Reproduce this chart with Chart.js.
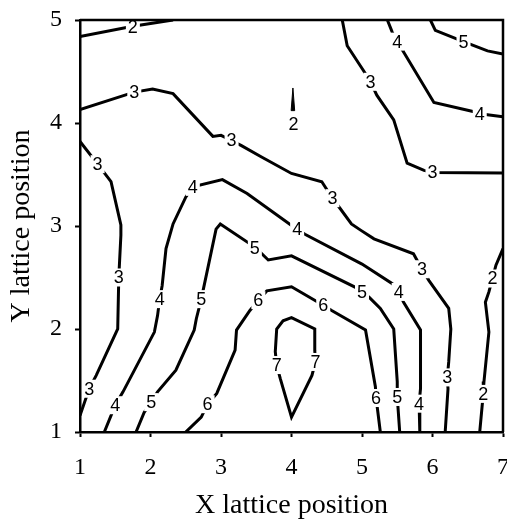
<!DOCTYPE html>
<html>
<head>
<meta charset="utf-8">
<script src="https://cdn.jsdelivr.net/npm/chart.js"></script>
<style>
  html, body { margin: 0; padding: 0; background: #fff; }
  #contour { display: block; }
</style>
</head>
<body>
<canvas id="contour" width="507" height="520"></canvas>
<script>
// contour lines, [x, y] in lattice units
const c2Top = [[1.0, 4.84], [1.75, 4.94], [2.32, 5.0]];
const c2Spike = [[3.995, 4.12], [4.02, 4.34], [4.045, 4.12], [3.995, 4.12]];
const c2Right = [[7.0, 2.78], [6.9, 2.62], [6.85, 2.49], [6.8, 2.36], [6.75, 2.26], [6.8, 1.97], [6.73, 1.49], [6.72, 1.37], [6.67, 1.0]];
const c3Upper = [[1.0, 4.13], [1.77, 4.3], [2.03, 4.33], [2.32, 4.285], [2.885, 3.87], [3.0, 3.88], [3.15, 3.83], [3.29, 3.78], [3.575, 3.67], [4.0, 3.51], [4.43, 3.43], [4.58, 3.27], [4.69, 3.17], [4.85, 3.02], [4.98, 2.96], [5.17, 2.875], [5.73, 2.73], [5.85, 2.58], [5.95, 2.47], [6.23, 2.2], [6.26, 2.0], [6.23, 1.68], [6.21, 1.53], [6.22, 1.42], [6.18, 1.0]];
const c3Left = [[1.0, 3.82], [1.25, 3.6], [1.44, 3.43], [1.58, 3.01], [1.58, 2.91], [1.55, 2.5], [1.535, 2.0], [1.23, 1.55], [1.13, 1.42], [1.0, 1.16]];
const c3TopRight = [[4.72, 5.0], [4.79, 4.75], [5.02, 4.51], [5.12, 4.4], [5.21, 4.27], [5.45, 4.03], [5.64, 3.61], [5.88, 3.54], [6.0, 3.52], [7.0, 3.515]];
const c4Main = [[1.345, 1.0], [1.5, 1.26], [1.61, 1.39], [2.055, 1.97], [2.1, 2.13], [2.13, 2.29], [2.165, 2.42], [2.22, 2.78], [2.32, 3.02], [2.5, 3.28], [2.6, 3.38], [3.02, 3.45], [3.37, 3.315], [4.03, 2.99], [4.08, 2.97], [4.19, 2.92], [5.0, 2.63], [5.43, 2.44], [5.52, 2.36], [5.59, 2.26], [5.83, 1.99], [5.83, 1.42], [5.81, 1.275], [5.82, 1.0]];
const c4TopRight = [[5.36, 5.0], [5.43, 4.88], [5.5, 4.79], [5.59, 4.69], [6.02, 4.2], [6.59, 4.11], [6.67, 4.09], [7.0, 4.06]];
const c5Main = [[1.795, 1.0], [1.91, 1.19], [2.01, 1.29], [2.1, 1.39], [2.36, 1.6], [2.62, 1.99], [2.65, 2.1], [2.72, 2.29], [2.93, 2.97], [2.99, 3.02], [3.49, 2.79], [3.67, 2.67], [4.0, 2.71], [4.95, 2.39], [5.0, 2.36], [5.1, 2.31], [5.26, 2.2], [5.45, 2.0], [5.5, 1.49], [5.5, 1.34], [5.535, 1.0]];
const c5TopRight = [[5.97, 5.0], [6.04, 4.9], [6.44, 4.79], [6.78, 4.7], [7.0, 4.67]];
const c6 = [[2.5, 1.0], [2.72, 1.145], [2.81, 1.27], [2.94, 1.375], [3.2, 1.795], [3.22, 1.99], [3.41, 2.18], [3.53, 2.28], [3.65, 2.37], [4.0, 2.41], [4.45, 2.23], [4.57, 2.18], [5.05, 1.99], [5.19, 1.44], [5.2, 1.33], [5.26, 1.0]];
const c7 = [[3.84, 1.52], [4.0, 1.145], [4.29, 1.55], [4.34, 1.68], [4.33, 1.79], [4.33, 2.0], [4.0, 2.11], [3.88, 2.08], [3.79, 2.0], [3.77, 1.78], [3.79, 1.65], [3.84, 1.52]];

// inline labels: [text, x, y]
const contourLabels = [
  ['2', 1.75, 4.93], ['2', 4.03, 3.99], ['2', 6.85, 2.49], ['2', 6.72, 1.37],
  ['3', 1.77, 4.3], ['3', 3.15, 3.83], ['3', 4.58, 3.27], ['3', 5.85, 2.58], ['3', 6.21, 1.53],
  ['3', 1.25, 3.6], ['3', 1.55, 2.5], ['3', 1.13, 1.42], ['3', 5.12, 4.4], ['3', 6.0, 3.52],
  ['4', 2.6, 3.38], ['4', 4.08, 2.97], ['4', 5.52, 2.36], ['4', 5.81, 1.275],
  ['4', 2.13, 2.29], ['4', 1.5, 1.26], ['4', 5.5, 4.79], ['4', 6.67, 4.09],
  ['5', 3.48, 2.79], ['5', 5.0, 2.36], ['5', 5.5, 1.34], ['5', 2.72, 2.29], ['5', 2.01, 1.29], ['5', 6.44, 4.79],
  ['6', 3.53, 2.28], ['6', 4.45, 2.23], ['6', 5.2, 1.33], ['6', 2.81, 1.27],
  ['7', 3.79, 1.65], ['7', 4.34, 1.68],
];

const xTicks = [1, 2, 3, 4, 5, 6, 7];
const yTicks = [1, 2, 3, 4, 5];

const contourLines = [c2Top, c2Right, c3Upper, c3Left, c3TopRight, c4Main, c4TopRight, c5Main, c5TopRight, c6, c7];

function toPoints(line) {
  return line.map(([x, y]) => ({ x, y }));
}

const datasets = contourLines.map((line) => ({
  data: toPoints(line),
  showLine: true,
  borderColor: '#000',
  borderWidth: 3,
  pointRadius: 0,
  tension: 0,
  fill: false,
}));

datasets.push({
  data: toPoints(c2Spike),
  showLine: true,
  borderColor: '#000',
  borderWidth: 1,
  backgroundColor: '#000',
  pointRadius: 0,
  fill: 'shape',
});

const frameAndLabels = {
  id: 'frameAndLabels',
  afterDatasetsDraw(chart) {
    const { ctx, chartArea, scales } = chart;
    ctx.save();
    ctx.font = '18px "Liberation Sans", Arial, sans-serif';
    ctx.textAlign = 'center';
    ctx.textBaseline = 'middle';
    for (const [text, x, y] of contourLabels) {
      const px = scales.x.getPixelForValue(x);
      const py = scales.y.getPixelForValue(y);
      ctx.fillStyle = '#fff';
      ctx.fillRect(px - 7, py - 9, 14, 18);
      ctx.fillStyle = '#000';
      ctx.fillText(text, px, py + 1);
    }
    // top and right frame lines
    ctx.strokeStyle = '#000';
    ctx.lineWidth = 2.5;
    ctx.beginPath();
    ctx.moveTo(chartArea.left, chartArea.top);
    ctx.lineTo(chartArea.right, chartArea.top);
    ctx.lineTo(chartArea.right, chartArea.bottom);
    ctx.stroke();
    ctx.restore();
  },
};

const serif = '"Liberation Serif", "Times New Roman", serif';

new Chart(document.getElementById('contour'), {
  type: 'scatter',
  data: { datasets },
  options: {
    responsive: false,
    animation: false,
    devicePixelRatio: 1,
    layout: { padding: { top: 20, right: 4, left: 0, bottom: 0 } },
    plugins: { legend: { display: false }, tooltip: { enabled: false } },
    scales: {
      x: {
        type: 'linear',
        min: 1,
        max: 7,
        afterBuildTicks: (scale) => { scale.ticks = xTicks.map((v) => ({ value: v })); },
        afterFit: (scale) => {
          scale.height = 88;
          scale.paddingLeft = 0;
          scale.paddingRight = 0;
        },
        ticks: { color: '#000', font: { family: serif, size: 24 }, padding: 16 },
        grid: { drawOnChartArea: false, drawTicks: true, tickLength: 5, tickColor: '#000', tickWidth: 2 },
        border: { display: true, color: '#000', width: 2.5 },
        title: { display: true, text: 'X lattice position', color: '#000', font: { family: serif, size: 28, lineHeight: 1 }, padding: { top: 0, bottom: 0 } },
      },
      y: {
        type: 'linear',
        min: 1,
        max: 5,
        afterBuildTicks: (scale) => { scale.ticks = yTicks.map((v) => ({ value: v })); },
        afterFit: (scale) => {
          scale.width = 80;
          scale.paddingTop = 0;
          scale.paddingBottom = 0;
        },
        ticks: { color: '#000', font: { family: serif, size: 24 }, padding: 13 },
        grid: { drawOnChartArea: false, drawTicks: true, tickLength: 5, tickColor: '#000', tickWidth: 2 },
        border: { display: true, color: '#000', width: 2.5 },
        title: { display: true, text: 'Y lattice position', color: '#000', font: { family: serif, size: 28, lineHeight: 1 }, padding: { top: 8, bottom: 0 } },
      },
    },
  },
  plugins: [frameAndLabels],
});
</script>
</body>
</html>
